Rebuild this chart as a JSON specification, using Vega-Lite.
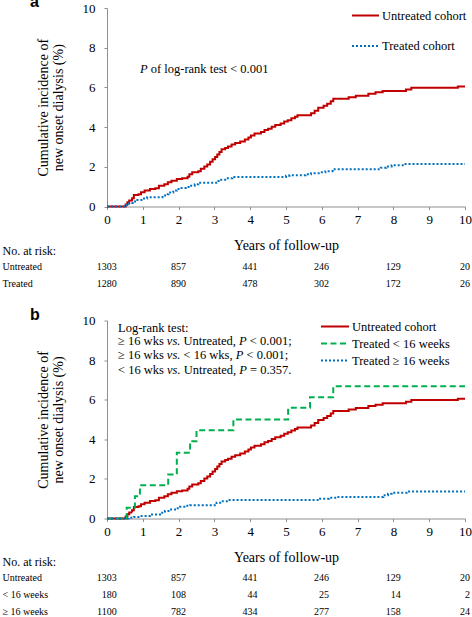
{
  "$schema": "https://vega.github.io/schema/vega-lite/v6.json",
  "padding": {"left": 2, "top": -6, "right": 0, "bottom": 0},
  "bounds": "flush",
  "spacing": 27.75,
  "resolve": {
    "scale": {"x": "independent", "y": "independent", "color": "independent", "strokeDash": "independent"},
    "legend": {"color": "independent", "strokeDash": "independent"}
  },
  "config": {
    "font": "Liberation Serif",
    "view": {"stroke": null},
    "axis": {
      "grid": false, "domainColor": "#8f8f8f", "tickColor": "#8f8f8f", "tickSize": 3, "labelOverlap": false,
      "labelColor": "black", "titleColor": "black", "labelFont": "Liberation Serif", "titleFont": "Liberation Serif",
      "labelFontSize": 13, "titleFontSize": 14, "titleFontWeight": "normal"
    },
    "legend": {"labelFont": "Liberation Serif", "labelFontSize": 12.5, "labelColor": "black"},
    "text": {"font": "Liberation Serif", "fontSize": 12.5, "color": "black"}
  },
  "datasets": {
    "curvesA": [
      {"series": "Untreated cohort", "t": 0, "v": 0}, {"series": "Untreated cohort", "t": 0.52, "v": 0.1}, {"series": "Untreated cohort", "t": 0.57, "v": 0.22}, {"series": "Untreated cohort", "t": 0.62, "v": 0.3}, {"series": "Untreated cohort", "t": 0.7, "v": 0.42}, {"series": "Untreated cohort", "t": 0.75, "v": 0.58}, {"series": "Untreated cohort", "t": 0.88, "v": 0.62}, {"series": "Untreated cohort", "t": 0.95, "v": 0.72}, {"series": "Untreated cohort", "t": 1.05, "v": 0.8}, {"series": "Untreated cohort", "t": 1.2, "v": 0.88}, {"series": "Untreated cohort", "t": 1.35, "v": 0.92}, {"series": "Untreated cohort", "t": 1.45, "v": 1.05}, {"series": "Untreated cohort", "t": 1.6, "v": 1.12}, {"series": "Untreated cohort", "t": 1.7, "v": 1.22}, {"series": "Untreated cohort", "t": 1.8, "v": 1.3}, {"series": "Untreated cohort", "t": 1.95, "v": 1.38}, {"series": "Untreated cohort", "t": 2.1, "v": 1.42}, {"series": "Untreated cohort", "t": 2.25, "v": 1.5}, {"series": "Untreated cohort", "t": 2.3, "v": 1.62}, {"series": "Untreated cohort", "t": 2.38, "v": 1.72}, {"series": "Untreated cohort", "t": 2.55, "v": 1.78}, {"series": "Untreated cohort", "t": 2.62, "v": 1.9}, {"series": "Untreated cohort", "t": 2.72, "v": 2.02}, {"series": "Untreated cohort", "t": 2.8, "v": 2.12}, {"series": "Untreated cohort", "t": 2.88, "v": 2.25}, {"series": "Untreated cohort", "t": 2.95, "v": 2.38}, {"series": "Untreated cohort", "t": 3.02, "v": 2.5}, {"series": "Untreated cohort", "t": 3.08, "v": 2.62}, {"series": "Untreated cohort", "t": 3.14, "v": 2.75}, {"series": "Untreated cohort", "t": 3.2, "v": 2.88}, {"series": "Untreated cohort", "t": 3.3, "v": 2.95}, {"series": "Untreated cohort", "t": 3.38, "v": 3.02}, {"series": "Untreated cohort", "t": 3.48, "v": 3.12}, {"series": "Untreated cohort", "t": 3.58, "v": 3.2}, {"series": "Untreated cohort", "t": 3.72, "v": 3.28}, {"series": "Untreated cohort", "t": 3.85, "v": 3.38}, {"series": "Untreated cohort", "t": 3.95, "v": 3.48}, {"series": "Untreated cohort", "t": 4.02, "v": 3.58}, {"series": "Untreated cohort", "t": 4.12, "v": 3.68}, {"series": "Untreated cohort", "t": 4.3, "v": 3.75}, {"series": "Untreated cohort", "t": 4.4, "v": 3.85}, {"series": "Untreated cohort", "t": 4.5, "v": 3.92}, {"series": "Untreated cohort", "t": 4.6, "v": 4.02}, {"series": "Untreated cohort", "t": 4.7, "v": 4.1}, {"series": "Untreated cohort", "t": 4.85, "v": 4.18}, {"series": "Untreated cohort", "t": 4.95, "v": 4.28}, {"series": "Untreated cohort", "t": 5.05, "v": 4.35}, {"series": "Untreated cohort", "t": 5.15, "v": 4.45}, {"series": "Untreated cohort", "t": 5.25, "v": 4.52}, {"series": "Untreated cohort", "t": 5.32, "v": 4.6}, {"series": "Untreated cohort", "t": 5.7, "v": 4.7}, {"series": "Untreated cohort", "t": 5.8, "v": 4.82}, {"series": "Untreated cohort", "t": 5.9, "v": 4.98}, {"series": "Untreated cohort", "t": 6.05, "v": 5.08}, {"series": "Untreated cohort", "t": 6.15, "v": 5.18}, {"series": "Untreated cohort", "t": 6.25, "v": 5.3}, {"series": "Untreated cohort", "t": 6.32, "v": 5.43}, {"series": "Untreated cohort", "t": 6.75, "v": 5.5}, {"series": "Untreated cohort", "t": 6.95, "v": 5.58}, {"series": "Untreated cohort", "t": 7.3, "v": 5.68}, {"series": "Untreated cohort", "t": 7.5, "v": 5.75}, {"series": "Untreated cohort", "t": 7.7, "v": 5.82}, {"series": "Untreated cohort", "t": 8.35, "v": 5.9}, {"series": "Untreated cohort", "t": 8.5, "v": 5.98}, {"series": "Untreated cohort", "t": 9.8, "v": 6.05}, {"series": "Untreated cohort", "t": 10, "v": 6.05},
      {"series": "Treated cohort", "t": 0, "v": 0}, {"series": "Treated cohort", "t": 0.55, "v": 0.08}, {"series": "Treated cohort", "t": 0.62, "v": 0.18}, {"series": "Treated cohort", "t": 0.72, "v": 0.25}, {"series": "Treated cohort", "t": 0.85, "v": 0.33}, {"series": "Treated cohort", "t": 1.0, "v": 0.4}, {"series": "Treated cohort", "t": 1.12, "v": 0.47}, {"series": "Treated cohort", "t": 1.55, "v": 0.55}, {"series": "Treated cohort", "t": 1.62, "v": 0.62}, {"series": "Treated cohort", "t": 1.72, "v": 0.7}, {"series": "Treated cohort", "t": 1.85, "v": 0.8}, {"series": "Treated cohort", "t": 1.95, "v": 0.88}, {"series": "Treated cohort", "t": 2.05, "v": 0.93}, {"series": "Treated cohort", "t": 2.2, "v": 0.98}, {"series": "Treated cohort", "t": 2.35, "v": 1.05}, {"series": "Treated cohort", "t": 2.45, "v": 1.12}, {"series": "Treated cohort", "t": 2.55, "v": 1.2}, {"series": "Treated cohort", "t": 3.05, "v": 1.28}, {"series": "Treated cohort", "t": 3.15, "v": 1.35}, {"series": "Treated cohort", "t": 3.3, "v": 1.42}, {"series": "Treated cohort", "t": 3.5, "v": 1.49}, {"series": "Treated cohort", "t": 5.0, "v": 1.55}, {"series": "Treated cohort", "t": 5.1, "v": 1.57}, {"series": "Treated cohort", "t": 5.55, "v": 1.62}, {"series": "Treated cohort", "t": 5.7, "v": 1.68}, {"series": "Treated cohort", "t": 5.95, "v": 1.72}, {"series": "Treated cohort", "t": 6.1, "v": 1.78}, {"series": "Treated cohort", "t": 6.3, "v": 1.88}, {"series": "Treated cohort", "t": 7.65, "v": 1.95}, {"series": "Treated cohort", "t": 7.8, "v": 2.02}, {"series": "Treated cohort", "t": 7.95, "v": 2.08}, {"series": "Treated cohort", "t": 8.3, "v": 2.14}, {"series": "Treated cohort", "t": 10, "v": 2.14}
    ],
    "curvesB": [
      {"series": "Untreated cohort", "t": 0, "v": 0}, {"series": "Untreated cohort", "t": 0.52, "v": 0.1}, {"series": "Untreated cohort", "t": 0.57, "v": 0.22}, {"series": "Untreated cohort", "t": 0.62, "v": 0.3}, {"series": "Untreated cohort", "t": 0.7, "v": 0.42}, {"series": "Untreated cohort", "t": 0.75, "v": 0.58}, {"series": "Untreated cohort", "t": 0.88, "v": 0.62}, {"series": "Untreated cohort", "t": 0.95, "v": 0.72}, {"series": "Untreated cohort", "t": 1.05, "v": 0.8}, {"series": "Untreated cohort", "t": 1.2, "v": 0.88}, {"series": "Untreated cohort", "t": 1.35, "v": 0.92}, {"series": "Untreated cohort", "t": 1.45, "v": 1.05}, {"series": "Untreated cohort", "t": 1.6, "v": 1.12}, {"series": "Untreated cohort", "t": 1.7, "v": 1.22}, {"series": "Untreated cohort", "t": 1.8, "v": 1.3}, {"series": "Untreated cohort", "t": 1.95, "v": 1.38}, {"series": "Untreated cohort", "t": 2.1, "v": 1.42}, {"series": "Untreated cohort", "t": 2.25, "v": 1.5}, {"series": "Untreated cohort", "t": 2.3, "v": 1.62}, {"series": "Untreated cohort", "t": 2.38, "v": 1.72}, {"series": "Untreated cohort", "t": 2.55, "v": 1.78}, {"series": "Untreated cohort", "t": 2.62, "v": 1.9}, {"series": "Untreated cohort", "t": 2.72, "v": 2.02}, {"series": "Untreated cohort", "t": 2.8, "v": 2.12}, {"series": "Untreated cohort", "t": 2.88, "v": 2.25}, {"series": "Untreated cohort", "t": 2.95, "v": 2.38}, {"series": "Untreated cohort", "t": 3.02, "v": 2.5}, {"series": "Untreated cohort", "t": 3.08, "v": 2.62}, {"series": "Untreated cohort", "t": 3.14, "v": 2.75}, {"series": "Untreated cohort", "t": 3.2, "v": 2.88}, {"series": "Untreated cohort", "t": 3.3, "v": 2.95}, {"series": "Untreated cohort", "t": 3.38, "v": 3.02}, {"series": "Untreated cohort", "t": 3.48, "v": 3.12}, {"series": "Untreated cohort", "t": 3.58, "v": 3.2}, {"series": "Untreated cohort", "t": 3.72, "v": 3.28}, {"series": "Untreated cohort", "t": 3.85, "v": 3.38}, {"series": "Untreated cohort", "t": 3.95, "v": 3.48}, {"series": "Untreated cohort", "t": 4.02, "v": 3.58}, {"series": "Untreated cohort", "t": 4.12, "v": 3.68}, {"series": "Untreated cohort", "t": 4.3, "v": 3.75}, {"series": "Untreated cohort", "t": 4.4, "v": 3.85}, {"series": "Untreated cohort", "t": 4.5, "v": 3.92}, {"series": "Untreated cohort", "t": 4.6, "v": 4.02}, {"series": "Untreated cohort", "t": 4.7, "v": 4.1}, {"series": "Untreated cohort", "t": 4.85, "v": 4.18}, {"series": "Untreated cohort", "t": 4.95, "v": 4.28}, {"series": "Untreated cohort", "t": 5.05, "v": 4.35}, {"series": "Untreated cohort", "t": 5.15, "v": 4.45}, {"series": "Untreated cohort", "t": 5.25, "v": 4.52}, {"series": "Untreated cohort", "t": 5.32, "v": 4.6}, {"series": "Untreated cohort", "t": 5.7, "v": 4.7}, {"series": "Untreated cohort", "t": 5.8, "v": 4.82}, {"series": "Untreated cohort", "t": 5.9, "v": 4.98}, {"series": "Untreated cohort", "t": 6.05, "v": 5.08}, {"series": "Untreated cohort", "t": 6.15, "v": 5.18}, {"series": "Untreated cohort", "t": 6.25, "v": 5.3}, {"series": "Untreated cohort", "t": 6.32, "v": 5.43}, {"series": "Untreated cohort", "t": 6.75, "v": 5.5}, {"series": "Untreated cohort", "t": 6.95, "v": 5.58}, {"series": "Untreated cohort", "t": 7.3, "v": 5.68}, {"series": "Untreated cohort", "t": 7.5, "v": 5.75}, {"series": "Untreated cohort", "t": 7.7, "v": 5.82}, {"series": "Untreated cohort", "t": 8.35, "v": 5.9}, {"series": "Untreated cohort", "t": 8.5, "v": 5.98}, {"series": "Untreated cohort", "t": 9.8, "v": 6.05}, {"series": "Untreated cohort", "t": 10, "v": 6.05},
      {"series": "Treated < 16 weeks", "t": 0, "v": 0}, {"series": "Treated < 16 weeks", "t": 0.55, "v": 0.54}, {"series": "Treated < 16 weeks", "t": 0.78, "v": 1.13}, {"series": "Treated < 16 weeks", "t": 0.92, "v": 1.68}, {"series": "Treated < 16 weeks", "t": 1.71, "v": 2.22}, {"series": "Treated < 16 weeks", "t": 1.95, "v": 3.32}, {"series": "Treated < 16 weeks", "t": 2.32, "v": 3.9}, {"series": "Treated < 16 weeks", "t": 2.5, "v": 4.46}, {"series": "Treated < 16 weeks", "t": 3.53, "v": 5.0}, {"series": "Treated < 16 weeks", "t": 5.06, "v": 5.59}, {"series": "Treated < 16 weeks", "t": 5.67, "v": 6.13}, {"series": "Treated < 16 weeks", "t": 6.32, "v": 6.68}, {"series": "Treated < 16 weeks", "t": 10, "v": 6.68},
      {"series": "Treated ≥ 16 weeks", "t": 0, "v": 0}, {"series": "Treated ≥ 16 weeks", "t": 0.6, "v": 0.04}, {"series": "Treated ≥ 16 weeks", "t": 0.75, "v": 0.08}, {"series": "Treated ≥ 16 weeks", "t": 0.92, "v": 0.12}, {"series": "Treated ≥ 16 weeks", "t": 1.2, "v": 0.2}, {"series": "Treated ≥ 16 weeks", "t": 1.48, "v": 0.29}, {"series": "Treated ≥ 16 weeks", "t": 1.62, "v": 0.38}, {"series": "Treated ≥ 16 weeks", "t": 1.76, "v": 0.45}, {"series": "Treated ≥ 16 weeks", "t": 1.9, "v": 0.52}, {"series": "Treated ≥ 16 weeks", "t": 2.04, "v": 0.59}, {"series": "Treated ≥ 16 weeks", "t": 2.2, "v": 0.64}, {"series": "Treated ≥ 16 weeks", "t": 2.32, "v": 0.67}, {"series": "Treated ≥ 16 weeks", "t": 3.06, "v": 0.8}, {"series": "Treated ≥ 16 weeks", "t": 3.2, "v": 0.87}, {"series": "Treated ≥ 16 weeks", "t": 3.35, "v": 0.93}, {"series": "Treated ≥ 16 weeks", "t": 5.95, "v": 1.0}, {"series": "Treated ≥ 16 weeks", "t": 6.2, "v": 1.05}, {"series": "Treated ≥ 16 weeks", "t": 6.42, "v": 1.09}, {"series": "Treated ≥ 16 weeks", "t": 7.72, "v": 1.18}, {"series": "Treated ≥ 16 weeks", "t": 7.85, "v": 1.25}, {"series": "Treated ≥ 16 weeks", "t": 7.95, "v": 1.3}, {"series": "Treated ≥ 16 weeks", "t": 8.37, "v": 1.36}, {"series": "Treated ≥ 16 weeks", "t": 10, "v": 1.36}
    ],
    "riskA": [
      {"group": "Untreated", "t": 0, "n": 1303}, {"group": "Untreated", "t": 2, "n": 857}, {"group": "Untreated", "t": 4, "n": 441}, {"group": "Untreated", "t": 6, "n": 246}, {"group": "Untreated", "t": 8, "n": 129}, {"group": "Untreated", "t": 10, "n": 20},
      {"group": "Treated", "t": 0, "n": 1280}, {"group": "Treated", "t": 2, "n": 890}, {"group": "Treated", "t": 4, "n": 478}, {"group": "Treated", "t": 6, "n": 302}, {"group": "Treated", "t": 8, "n": 172}, {"group": "Treated", "t": 10, "n": 26}
    ],
    "riskB": [
      {"group": "Untreated", "t": 0, "n": 1303}, {"group": "Untreated", "t": 2, "n": 857}, {"group": "Untreated", "t": 4, "n": 441}, {"group": "Untreated", "t": 6, "n": 246}, {"group": "Untreated", "t": 8, "n": 129}, {"group": "Untreated", "t": 10, "n": 20},
      {"group": "< 16 weeks", "t": 0, "n": 180}, {"group": "< 16 weeks", "t": 2, "n": 108}, {"group": "< 16 weeks", "t": 4, "n": 44}, {"group": "< 16 weeks", "t": 6, "n": 25}, {"group": "< 16 weeks", "t": 8, "n": 14}, {"group": "< 16 weeks", "t": 10, "n": 2},
      {"group": "≥ 16 weeks", "t": 0, "n": 1100}, {"group": "≥ 16 weeks", "t": 2, "n": 782}, {"group": "≥ 16 weeks", "t": 4, "n": 434}, {"group": "≥ 16 weeks", "t": 6, "n": 277}, {"group": "≥ 16 weeks", "t": 8, "n": 158}, {"group": "≥ 16 weeks", "t": 10, "n": 24}
    ]
  },
  "vconcat": [
    {
      "width": 358, "height": 198.5,
      "layer": [
        {
          "data": {"name": "curvesA"},
          "mark": {"type": "line", "interpolate": "step-after", "strokeWidth": 2},
          "encoding": {
            "x": {"field": "t", "type": "quantitative", "scale": {"domain": [0, 10]}, "axis": {"values": [0, 1, 2, 3, 4, 5, 6, 7, 8, 9, 10], "tickCount": 11, "labelOverlap": false, "title": "Years of follow-up", "titlePadding": 12, "labelPadding": 4, "labelFlush": false}},
            "y": {"field": "v", "type": "quantitative", "scale": {"domain": [0, 10]}, "axis": {"values": [0, 2, 4, 6, 8, 10], "tickCount": 6, "labelOverlap": false, "title": ["Cumulative incidence of", "new onset dialysis (%)"], "titlePadding": 16.5, "titleLineHeight": 15, "labelPadding": 9}},
            "color": {"field": "series", "type": "nominal", "scale": {"domain": ["Untreated cohort", "Treated cohort"], "range": ["#C00000", "#0070C0"]},
              "legend": {"title": null, "orient": "none", "legendX": 244, "legendY": -0.75, "symbolType": "stroke", "symbolSize": 729, "symbolStrokeWidth": 2, "labelOffset": 2, "clipHeight": 16.5, "rowPadding": 13.5, "padding": 0}},
            "strokeDash": {"field": "series", "type": "nominal", "scale": {"domain": ["Untreated cohort", "Treated cohort"], "range": [[1, 0], [2, 2]]},
              "legend": {"title": null, "orient": "none", "legendX": 244, "legendY": -0.75, "symbolType": "stroke", "symbolSize": 729, "symbolStrokeWidth": 2, "labelOffset": 2, "clipHeight": 16.5, "rowPadding": 13.5, "padding": 0}}
          }
        },
        {
          "data": {"values": [{}]},
          "mark": {"type": "text", "align": "left", "baseline": "alphabetic", "font": "Liberation Sans", "fontSize": 16, "fontWeight": "bold"},
          "encoding": {"x": {"datum": -2.15}, "y": {"datum": 10.05}, "text": {"value": "a"}}
        },
        {
          "data": {"values": [{}]},
          "mark": {"type": "text", "align": "left", "baseline": "middle", "fontStyle": "italic"},
          "encoding": {"x": {"datum": 0.92}, "y": {"datum": 6.93}, "text": {"value": "P"}}
        },
        {
          "data": {"values": [{}]},
          "mark": {"type": "text", "align": "left", "baseline": "middle", "dx": 10.77},
          "encoding": {"x": {"datum": 0.92}, "y": {"datum": 6.93}, "text": {"value": "of log-rank test < 0.001"}}
        }
      ]
    },
    {
      "width": 358, "height": 57.5,
      "data": {"name": "riskA"},
      "encoding": {
        "x": {"field": "t", "type": "quantitative", "scale": {"domain": [0, 10]}, "axis": null},
        "y": {"field": "group", "type": "nominal", "scale": {"type": "band", "domain": ["No. at risk:", "Untreated", "Treated"], "paddingInner": 0, "paddingOuter": 0.2424, "align": 1},
          "axis": {"title": null, "domain": false, "ticks": false, "tickSize": 0, "labelAlign": "left", "labelPadding": 105, "labelFontSize": {"condition": {"test": "datum.value === 'No. at risk:'", "value": 12}, "value": 10}}},
        "text": {"field": "n", "type": "quantitative"}
      },
      "layer": [
        {"transform": [{"filter": "datum.t == 0"}], "mark": {"type": "text", "align": "right", "baseline": "middle", "fontSize": 10, "dx": 9.7}},
        {"transform": [{"filter": "datum.t > 0 && datum.t < 10"}], "mark": {"type": "text", "align": "right", "baseline": "middle", "fontSize": 10, "dx": 7.3}},
        {"transform": [{"filter": "datum.t == 10"}], "mark": {"type": "text", "align": "right", "baseline": "middle", "fontSize": 10, "dx": 5}}
      ]
    },
    {
      "width": 358, "height": 198,
      "layer": [
        {
          "data": {"name": "curvesB"},
          "mark": {"type": "line", "interpolate": "step-after", "strokeWidth": 2},
          "encoding": {
            "x": {"field": "t", "type": "quantitative", "scale": {"domain": [0, 10]}, "axis": {"values": [0, 1, 2, 3, 4, 5, 6, 7, 8, 9, 10], "tickCount": 11, "labelOverlap": false, "title": "Years of follow-up", "titlePadding": 12, "labelPadding": 4, "labelFlush": false}},
            "y": {"field": "v", "type": "quantitative", "scale": {"domain": [0, 10]}, "axis": {"values": [0, 2, 4, 6, 8, 10], "tickCount": 6, "labelOverlap": false, "title": ["Cumulative incidence of", "new onset dialysis (%)"], "titlePadding": 16.5, "titleLineHeight": 15, "labelPadding": 9}},
            "color": {"field": "series", "type": "nominal", "scale": {"domain": ["Untreated cohort", "Treated < 16 weeks", "Treated ≥ 16 weeks"], "range": ["#C00000", "#00B050", "#0070C0"]},
              "legend": {"title": null, "orient": "none", "legendX": 213, "legendY": -2.25, "symbolType": "stroke", "symbolSize": 784, "symbolStrokeWidth": 2, "labelOffset": 2, "clipHeight": 16.5, "rowPadding": 0, "padding": 0}},
            "strokeDash": {"field": "series", "type": "nominal", "scale": {"domain": ["Untreated cohort", "Treated < 16 weeks", "Treated ≥ 16 weeks"], "range": [[1, 0], [6, 3.5], [2, 2]]},
              "legend": {"title": null, "orient": "none", "legendX": 213, "legendY": -2.25, "symbolType": "stroke", "symbolSize": 784, "symbolStrokeWidth": 2, "labelOffset": 2, "clipHeight": 16.5, "rowPadding": 0, "padding": 0}}
          }
        },
        {"data": {"values": [{}]}, "mark": {"type": "text", "align": "left", "baseline": "alphabetic", "font": "Liberation Sans", "fontSize": 16, "fontWeight": "bold"}, "encoding": {"x": {"datum": -2.15}, "y": {"datum": 10.05}, "text": {"value": "b"}}},
        {"data": {"values": [{}]}, "mark": {"type": "text", "align": "left", "baseline": "middle"}, "encoding": {"x": {"datum": 0.307}, "y": {"datum": 9.646}, "text": {"value": "Log-rank test:"}}},
        {"data": {"values": [{}]}, "mark": {"type": "text", "align": "left", "baseline": "middle"}, "encoding": {"x": {"datum": 0.307}, "y": {"datum": 8.955}, "text": {"value": "≥ 16 wks"}}},
        {"data": {"values": [{}]}, "mark": {"type": "text", "align": "left", "baseline": "middle", "fontStyle": "italic", "dx": 48.875}, "encoding": {"x": {"datum": 0.307}, "y": {"datum": 8.955}, "text": {"value": "vs."}}},
        {"data": {"values": [{}]}, "mark": {"type": "text", "align": "left", "baseline": "middle", "dx": 65.54}, "encoding": {"x": {"datum": 0.307}, "y": {"datum": 8.955}, "text": {"value": "Untreated,"}}},
        {"data": {"values": [{}]}, "mark": {"type": "text", "align": "left", "baseline": "middle", "fontStyle": "italic", "dx": 121.07}, "encoding": {"x": {"datum": 0.307}, "y": {"datum": 8.955}, "text": {"value": "P"}}},
        {"data": {"values": [{}]}, "mark": {"type": "text", "align": "left", "baseline": "middle", "dx": 131.84}, "encoding": {"x": {"datum": 0.307}, "y": {"datum": 8.955}, "text": {"value": "< 0.001;"}}},
        {"data": {"values": [{}]}, "mark": {"type": "text", "align": "left", "baseline": "middle"}, "encoding": {"x": {"datum": 0.307}, "y": {"datum": 8.258}, "text": {"value": "≥ 16 wks"}}},
        {"data": {"values": [{}]}, "mark": {"type": "text", "align": "left", "baseline": "middle", "fontStyle": "italic", "dx": 48.875}, "encoding": {"x": {"datum": 0.307}, "y": {"datum": 8.258}, "text": {"value": "vs."}}},
        {"data": {"values": [{}]}, "mark": {"type": "text", "align": "left", "baseline": "middle", "dx": 65.54}, "encoding": {"x": {"datum": 0.307}, "y": {"datum": 8.258}, "text": {"value": "< 16 wks,"}}},
        {"data": {"values": [{}]}, "mark": {"type": "text", "align": "left", "baseline": "middle", "fontStyle": "italic", "dx": 117.73}, "encoding": {"x": {"datum": 0.307}, "y": {"datum": 8.258}, "text": {"value": "P"}}},
        {"data": {"values": [{}]}, "mark": {"type": "text", "align": "left", "baseline": "middle", "dx": 128.5}, "encoding": {"x": {"datum": 0.307}, "y": {"datum": 8.258}, "text": {"value": "< 0.001;"}}},
        {"data": {"values": [{}]}, "mark": {"type": "text", "align": "left", "baseline": "middle"}, "encoding": {"x": {"datum": 0.307}, "y": {"datum": 7.525}, "text": {"value": "< 16 wks"}}},
        {"data": {"values": [{}]}, "mark": {"type": "text", "align": "left", "baseline": "middle", "fontStyle": "italic", "dx": 49.06}, "encoding": {"x": {"datum": 0.307}, "y": {"datum": 7.525}, "text": {"value": "vs."}}},
        {"data": {"values": [{}]}, "mark": {"type": "text", "align": "left", "baseline": "middle", "dx": 65.73}, "encoding": {"x": {"datum": 0.307}, "y": {"datum": 7.525}, "text": {"value": "Untreated,"}}},
        {"data": {"values": [{}]}, "mark": {"type": "text", "align": "left", "baseline": "middle", "fontStyle": "italic", "dx": 121.26}, "encoding": {"x": {"datum": 0.307}, "y": {"datum": 7.525}, "text": {"value": "P"}}},
        {"data": {"values": [{}]}, "mark": {"type": "text", "align": "left", "baseline": "middle", "dx": 132.03}, "encoding": {"x": {"datum": 0.307}, "y": {"datum": 7.525}, "text": {"value": "= 0.357."}}}
      ]
    },
    {
      "width": 358, "height": 74.05,
      "data": {"name": "riskB"},
      "encoding": {
        "x": {"field": "t", "type": "quantitative", "scale": {"domain": [0, 10]}, "axis": null},
        "y": {"field": "group", "type": "nominal", "scale": {"type": "band", "domain": ["No. at risk:", "Untreated", "< 16 weeks", "≥ 16 weeks"], "paddingInner": 0, "paddingOuter": 0.2039, "align": 1},
          "axis": {"title": null, "domain": false, "ticks": false, "tickSize": 0, "labelAlign": "left", "labelPadding": 105, "labelFontSize": {"condition": {"test": "datum.value === 'No. at risk:'", "value": 12}, "value": 10}}},
        "text": {"field": "n", "type": "quantitative"}
      },
      "layer": [
        {"transform": [{"filter": "datum.t == 0"}], "mark": {"type": "text", "align": "right", "baseline": "middle", "fontSize": 10, "dx": 9.7}},
        {"transform": [{"filter": "datum.t > 0 && datum.t < 10"}], "mark": {"type": "text", "align": "right", "baseline": "middle", "fontSize": 10, "dx": 7.3}},
        {"transform": [{"filter": "datum.t == 10"}], "mark": {"type": "text", "align": "right", "baseline": "middle", "fontSize": 10, "dx": 5}}
      ]
    }
  ]
}
